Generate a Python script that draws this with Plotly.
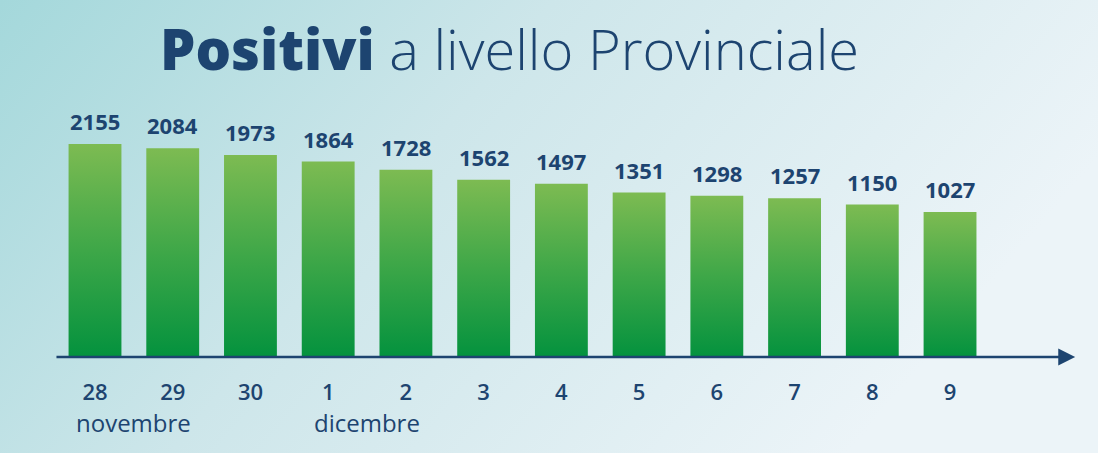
import base64
import plotly.graph_objects as go

giorni = ["28", "29", "30", "1", "2", "3", "4", "5", "6", "7", "8", "9"]
positivi = [2155, 2084, 1973, 1864, 1728, 1562, 1497, 1351, 1298, 1257, 1150, 1027]
mesi = ["novembre", "dicembre"]
mesi_pos = [0.5, 3.5]   # centred between the two first days of each month

NAVY = "#1d4470"
FONT = "Open Sans"
W, H = 1098, 453
BASE_PX = 96            # axis line height from the bottom of the page
PX_PER_UNIT = 0.0603    # bars do not start at zero in the original
Y_FLOOR = -1377
PLOT_H = H - BASE_PX

# background gradient as an svg image
svg = (
    "<svg xmlns='http://www.w3.org/2000/svg' width='%d' height='%d'>"
    "<defs><linearGradient id='g' x1='0' y1='0' x2='1' y2='0.35'>"
    "<stop offset='0' stop-color='#a4d8db'/>"
    "<stop offset='0.45' stop-color='#cde6ea'/>"
    "<stop offset='1' stop-color='#ecf4f8'/>"
    "</linearGradient></defs>"
    "<rect width='100%%' height='100%%' fill='url(#g)'/></svg>" % (W, H)
)
bg_src = "data:image/svg+xml;base64," + base64.b64encode(svg.encode()).decode()

fig = go.Figure()

bar_w = 0.68
for i, v in enumerate(positivi):
    fig.add_trace(go.Scatter(
        x=[i - bar_w / 2, i - bar_w / 2, i + bar_w / 2, i + bar_w / 2, i - bar_w / 2],
        y=[Y_FLOOR, v, v, Y_FLOOR, Y_FLOOR],
        mode="lines", fill="toself", line=dict(width=0),
        fillcolor="#3fa847",
        fillgradient=dict(type="vertical",
                          colorscale=[[0, "#04923e"], [0.5, "#3ea748"], [1, "#7dbb52"]]),
        hoverinfo="skip", showlegend=False,
    ))

annotations = [
    # title
    dict(text="<span style='font-weight:800'>Positivi</span> a livello Provinciale",
         xref="paper", yref="paper", x=509 / W, y=(PLOT_H - 48) / PLOT_H,
         xanchor="center", yanchor="middle", showarrow=False,
         font=dict(family=FONT, size=56, color=NAVY, weight=300)),
    # axis line with arrow
    dict(text="", x=12.61, y=Y_FLOOR, ax=-0.515, ay=Y_FLOOR, xref="x", yref="y",
         axref="x", ayref="y", showarrow=True, arrowhead=2, arrowsize=1.3,
         arrowwidth=2.6, arrowcolor=NAVY),
]
# value labels on top of the bars
for i, v in enumerate(positivi):
    annotations.append(dict(
        text=str(v), x=i, y=v, xref="x", yref="y", yanchor="bottom", yshift=6,
        showarrow=False, font=dict(family=FONT, size=22, color=NAVY, weight=700)))
for m, p in zip(mesi, mesi_pos):
    annotations.append(dict(
        text=m, x=p, y=-(422 - PLOT_H) / PLOT_H, xref="x", yref="paper",
        xanchor="center", yanchor="middle", showarrow=False,
        font=dict(family=FONT, size=24, color=NAVY, weight=500)))

x0 = -95 / 77.73
fig.update_layout(
    width=W, height=H,
    margin=dict(l=0, r=0, t=0, b=BASE_PX),
    paper_bgcolor="#cfe7eb", plot_bgcolor="rgba(0,0,0,0)",
    images=[dict(source=bg_src, xref="paper", yref="paper", x=0, y=1,
                 sizex=1, sizey=1 + BASE_PX / PLOT_H, sizing="stretch",
                 xanchor="left", yanchor="top", layer="below")],
    xaxis=dict(range=[x0, x0 + W / 77.73], showgrid=False, zeroline=False,
               showline=False, tickvals=list(range(len(giorni))), ticktext=giorni,
               ticks="outside", ticklen=0, ticklabelstandoff=16,
               tickfont=dict(family=FONT, size=22, color=NAVY, weight=600),
               fixedrange=True),
    yaxis=dict(range=[Y_FLOOR, Y_FLOOR + PLOT_H / PX_PER_UNIT], visible=False,
               fixedrange=True),
    annotations=annotations,
)

fig.write_html("out.html", config={"displayModeBar": False},
               post_script="document.body.style.margin='0';")
